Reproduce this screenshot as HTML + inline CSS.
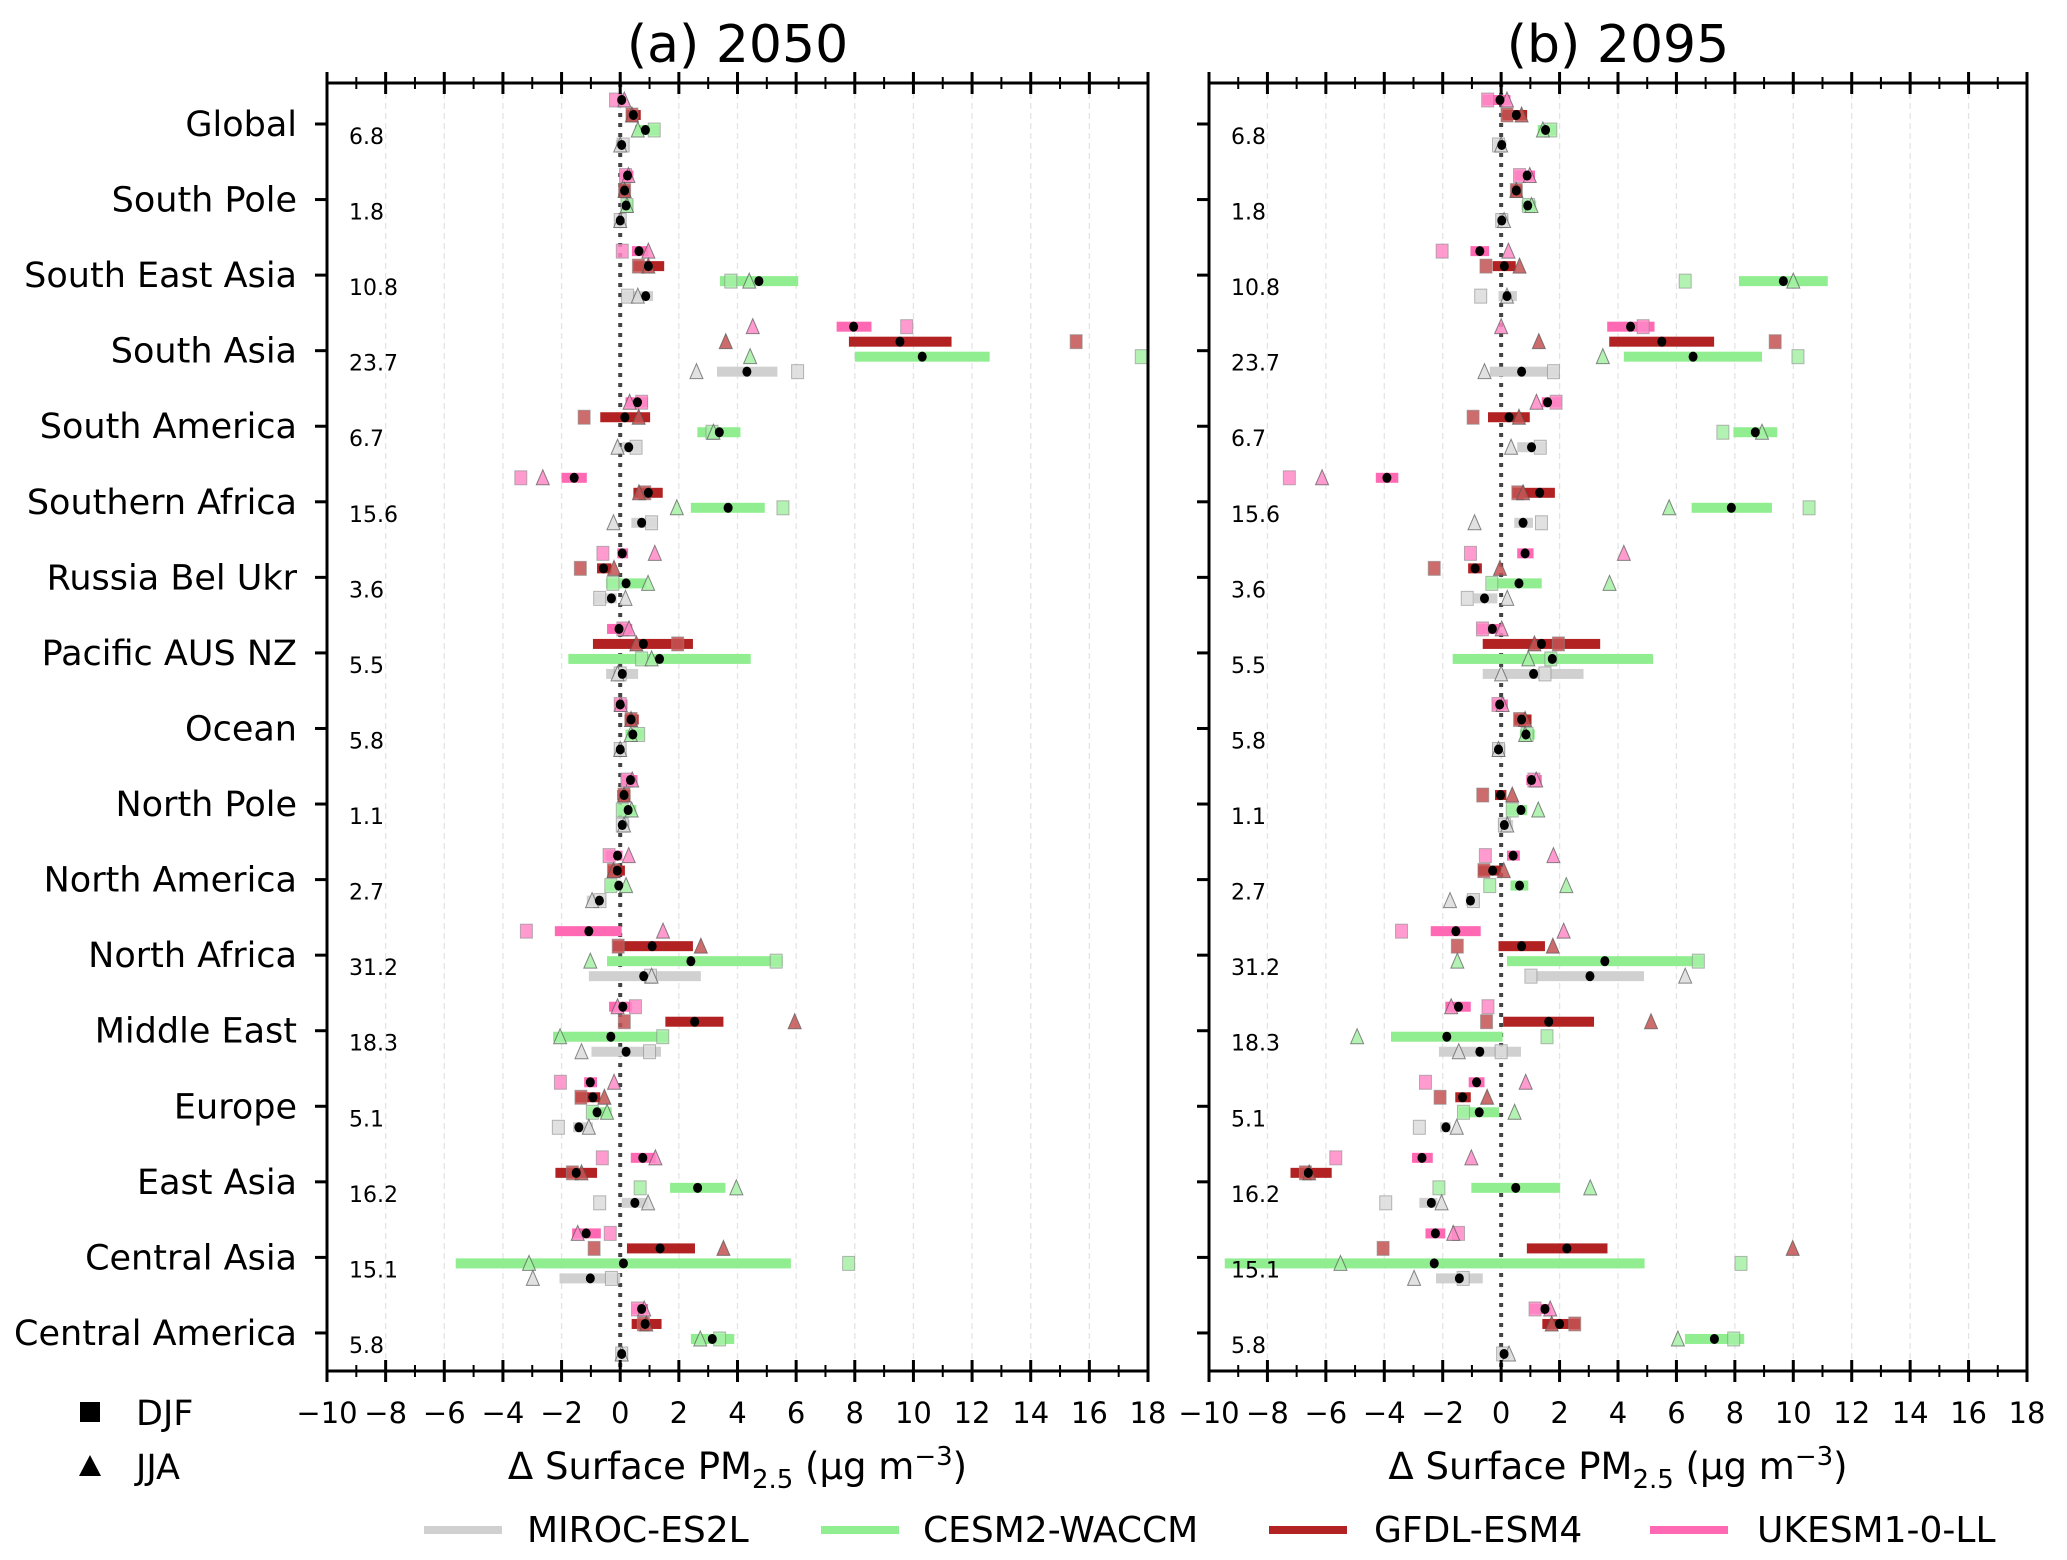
<!DOCTYPE html>
<html><head><meta charset="utf-8"><style>
html,body{margin:0;padding:0;background:#fff}
svg{display:block;font-family:"DejaVu Sans","Liberation Sans",sans-serif}
</style></head><body>
<svg id="chart" width="2067" height="1560" viewBox="0 0 2067 1560" xmlns="http://www.w3.org/2000/svg"></svg>
<script>
const categories=["Global","South Pole","South East Asia","South Asia","South America","Southern Africa","Russia Bel Ukr","Pacific AUS NZ","Ocean","North Pole","North America","North Africa","Middle East","Europe","East Asia","Central Asia","Central America"];
const baselines=["6.8","1.8","10.8","23.7","6.7","15.6","3.6","5.5","5.8","1.1","2.7","31.2","18.3","5.1","16.2","15.1","5.8"];
const xTicks=[-10,-8,-6,-4,-2,0,2,4,6,8,10,12,14,16,18];
const modelNames=["UKESM1-0-LL","GFDL-ESM4","CESM2-WACCM","MIROC-ES2L"];
// Panel (a) 2050
const a_ukesm_lo=[-0.1,0.0,0.4,7.38,0.18,-2.0,-0.1,-0.45,-0.2,0.05,-0.5,-2.23,-0.38,-1.23,0.36,-1.64,0.4];
const a_ukesm_hi=[0.15,0.45,0.96,8.57,0.95,-1.14,0.27,0.41,0.25,0.59,0.08,0.05,0.41,-0.79,1.21,-0.66,0.95];
const a_ukesm_mean=[0.05,0.25,0.64,7.96,0.59,-1.57,0.07,-0.04,0.0,0.35,-0.09,-1.07,0.09,-1.02,0.77,-1.16,0.73];
const a_ukesm_djf=[-0.16,0.18,0.07,9.77,0.73,-3.39,-0.59,0.09,0.0,0.23,-0.38,-3.2,0.52,-2.04,-0.61,-0.34,0.59];
const a_ukesm_jja=[0.14,0.28,0.96,4.52,0.32,-2.64,1.18,0.3,0.02,0.41,0.29,1.46,-0.09,-0.21,1.2,-1.45,0.82];
const a_gfdl_lo=[0.2,-0.05,0.45,7.8,-0.68,0.45,-0.79,-0.93,0.15,-0.1,-0.43,-0.25,1.54,-1.52,-2.21,0.23,0.39];
const a_gfdl_hi=[0.7,0.35,1.5,11.3,1.02,1.45,-0.3,2.48,0.63,0.35,0.16,2.48,3.52,-0.68,-0.79,2.55,1.41];
const a_gfdl_mean=[0.45,0.15,0.96,9.54,0.16,0.96,-0.57,0.79,0.37,0.13,-0.1,1.09,2.54,-0.93,-1.5,1.36,0.85];
const a_gfdl_djf=[0.4,0.15,0.62,15.55,-1.23,0.84,-1.36,1.96,0.37,0.13,-0.23,-0.07,0.14,-1.34,-1.63,-0.89,0.79];
const a_gfdl_jja=[0.4,0.15,0.96,3.6,0.63,0.64,-0.21,0.55,0.37,0.13,-0.23,2.75,5.95,-0.54,-1.32,3.52,0.89];
const a_cesm_lo=[0.5,0.05,3.4,8.0,2.63,2.41,-0.48,-1.77,0.18,-0.1,-0.48,-0.45,-2.29,-1.12,1.7,-5.61,2.41];
const a_cesm_hi=[1.35,0.45,6.07,12.6,4.1,4.93,0.89,4.45,0.82,0.55,0.05,5.54,1.64,-0.29,3.59,5.82,3.89];
const a_cesm_mean=[0.86,0.2,4.73,10.3,3.38,3.68,0.2,1.34,0.43,0.27,-0.05,2.41,-0.32,-0.79,2.64,0.11,3.14];
const a_cesm_djf=[1.16,0.23,3.77,17.77,3.13,5.55,-0.25,0.73,0.63,0.07,-0.32,5.32,1.45,-0.95,0.68,7.79,3.39];
const a_cesm_jja=[0.6,0.23,4.4,4.43,3.18,1.93,0.95,1.07,0.36,0.39,0.2,-1.02,-2.05,-0.45,3.96,-3.11,2.73];
const a_miroc_lo=[-0.15,-0.15,0.05,3.3,0.05,0.38,-0.9,-0.48,-0.15,-0.1,-1.14,-1.07,-0.98,-1.61,0.05,-2.07,-0.15];
const a_miroc_hi=[0.3,0.2,1.12,5.36,0.73,1.27,-0.12,0.61,0.2,0.32,-0.48,2.75,1.39,-0.93,0.95,0.0,0.27];
const a_miroc_mean=[0.05,0.0,0.87,4.32,0.29,0.73,-0.3,0.07,0.0,0.07,-0.71,0.8,0.2,-1.41,0.5,-1.02,0.05];
const a_miroc_djf=[0.1,0.0,0.25,6.05,0.54,1.07,-0.7,0.0,0.0,0.07,-0.69,1.03,1.0,-2.11,-0.7,-0.3,0.05];
const a_miroc_jja=[0.0,0.0,0.6,2.6,-0.09,-0.23,0.18,-0.09,0.0,0.13,-0.96,1.07,-1.32,-1.07,0.95,-2.98,0.05];
// Panel (b) 2095
const b_ukesm_lo=[-0.63,0.46,-1.05,3.63,1.39,-4.29,0.55,-0.84,-0.3,0.86,0.2,-2.41,-1.91,-1.11,-3.05,-2.59,0.98];
const b_ukesm_hi=[0.32,1.16,-0.41,5.25,2.07,-3.52,1.11,-0.04,0.23,1.39,0.64,-0.7,-1.04,-0.57,-2.34,-1.91,1.7];
const b_ukesm_mean=[-0.04,0.89,-0.73,4.43,1.59,-3.91,0.82,-0.3,-0.05,1.04,0.41,-1.55,-1.46,-0.84,-2.71,-2.25,1.5];
const b_ukesm_djf=[-0.46,0.63,-2.02,4.86,1.88,-7.25,-1.05,-0.64,-0.11,1.12,-0.54,-3.41,-0.45,-2.59,-5.66,-1.46,1.16];
const b_ukesm_jja=[0.2,0.98,0.25,0.0,1.21,-6.13,4.2,0.02,0.05,1.2,1.79,2.14,-1.71,0.84,-1.02,-1.64,1.68];
const b_gfdl_lo=[0.05,0.35,-0.29,3.7,-0.45,0.38,-1.13,-0.63,0.45,-0.21,-0.79,-0.09,0.07,-1.57,-7.21,0.88,1.41];
const b_gfdl_hi=[0.89,0.72,0.5,7.29,0.98,1.84,-0.66,3.39,1.04,0.18,0.0,1.5,3.18,-1.04,-5.8,3.64,2.7];
const b_gfdl_mean=[0.52,0.52,0.11,5.5,0.27,1.32,-0.89,1.38,0.7,-0.02,-0.29,0.7,1.63,-1.32,-6.6,2.25,2.0];
const b_gfdl_djf=[0.2,0.52,-0.52,9.38,-0.96,0.57,-2.29,1.96,0.63,-0.63,-0.59,-1.5,-0.5,-2.09,-6.7,-4.04,2.52];
const b_gfdl_jja=[0.7,0.52,0.63,1.29,0.61,0.75,-0.04,1.14,0.82,0.38,0.09,1.77,5.13,-0.48,-6.57,9.98,1.73];
const b_cesm_lo=[1.25,0.7,8.14,4.2,7.95,6.52,-0.48,-1.66,0.64,0.18,0.32,0.2,-3.77,-1.46,-1.02,-9.46,6.29];
const b_cesm_hi=[1.89,1.2,11.18,8.93,9.45,9.27,1.39,5.2,1.15,0.89,0.93,6.93,0.05,-0.07,2.02,4.91,8.32];
const b_cesm_mean=[1.52,0.91,9.66,6.57,8.7,7.88,0.61,1.75,0.85,0.68,0.63,3.55,-1.86,-0.75,0.5,-2.29,7.3];
const b_cesm_djf=[1.7,0.94,6.3,10.16,7.59,10.54,-0.32,1.7,0.89,0.38,-0.39,6.75,1.57,-1.29,-2.13,8.21,7.96];
const b_cesm_jja=[1.43,1.04,10.0,3.48,8.93,5.75,3.71,0.93,0.82,1.27,2.23,-1.5,-4.93,0.46,3.05,-5.5,6.05];
const b_miroc_lo=[-0.25,-0.15,-0.09,-0.39,0.55,0.45,-0.93,-0.63,-0.3,-0.1,-1.21,0.84,-2.13,-2.09,-2.8,-2.23,-0.1];
const b_miroc_hi=[0.18,0.25,0.54,1.98,1.54,1.09,-0.13,2.82,0.15,0.41,-0.75,4.89,0.68,-1.73,-2.18,-0.63,0.32];
const b_miroc_mean=[0.02,0.02,0.2,0.7,1.04,0.75,-0.57,1.11,-0.09,0.11,-1.05,3.04,-0.73,-1.89,-2.39,-1.43,0.1];
const b_miroc_djf=[-0.09,0.02,-0.7,1.79,1.34,1.38,-1.16,1.5,-0.09,0.11,-0.95,1.02,0.0,-2.8,-3.95,-1.3,0.05];
const b_miroc_jja=[0.0,0.1,0.2,-0.57,0.34,-0.91,0.21,0.0,-0.09,0.21,-1.75,6.3,-1.45,-1.52,-2.04,-2.98,0.27];

const NS="http://www.w3.org/2000/svg";
const svg=document.getElementById('chart');
function mk(tag,attrs,parent){const e=document.createElementNS(NS,tag);for(const k in attrs)e.setAttribute(k,attrs[k]);(parent||svg).appendChild(e);return e;}
const TOP=83,BOT=1371,Y0=124,DY=75.56;
function yCat(i){return Y0+i*DY;}
const rowOff=[-24,-9,6,21];
const barCol=["#ff69b4","#b22222","#90ee90","#d0d0d0"];
const mkCol=["#ff8ac6","#c45252","#a6f0a6","#dcdcdc"];

const panels=[
 {key:'a',title:'(a) 2050',L:327,R:1148,data:[
  [a_ukesm_lo,a_ukesm_hi,a_ukesm_mean,a_ukesm_djf,a_ukesm_jja],
  [a_gfdl_lo,a_gfdl_hi,a_gfdl_mean,a_gfdl_djf,a_gfdl_jja],
  [a_cesm_lo,a_cesm_hi,a_cesm_mean,a_cesm_djf,a_cesm_jja],
  [a_miroc_lo,a_miroc_hi,a_miroc_mean,a_miroc_djf,a_miroc_jja]]},
 {key:'b',title:'(b) 2095',L:1209,R:2027,data:[
  [b_ukesm_lo,b_ukesm_hi,b_ukesm_mean,b_ukesm_djf,b_ukesm_jja],
  [b_gfdl_lo,b_gfdl_hi,b_gfdl_mean,b_gfdl_djf,b_gfdl_jja],
  [b_cesm_lo,b_cesm_hi,b_cesm_mean,b_cesm_djf,b_cesm_jja],
  [b_miroc_lo,b_miroc_hi,b_miroc_mean,b_miroc_djf,b_miroc_jja]]}
];

panels.forEach(p=>{
  const x=v=>p.L+(v+10)*(p.R-p.L)/28;
  const g=mk('g',{});
  
  
  const cp=mk('clipPath',{id:'clip'+p.key},g);
  mk('rect',{x:p.L,y:TOP,width:p.R-p.L,height:BOT-TOP},cp);
  const t=mk('text',{x:(p.L+p.R)/2,y:62,'text-anchor':'middle','font-size':52},g);
  t.textContent=p.title;
  
  
  xTicks.forEach(v=>{
    const gl=mk('line',{x1:x(v),x2:x(v),y1:TOP,y2:BOT,stroke:'#e4e4e4','stroke-width':1.3,'stroke-dasharray':'6,4'},g);
    
    
  });
  const zl=mk('line',{x1:x(0),x2:x(0),y1:TOP,y2:BOT,stroke:'#444','stroke-width':4,'stroke-dasharray':'4,6'},g);
  
  
  const mg=mk('g',{'clip-path':'url(#clip'+p.key+')'},g);
  categories.forEach((c,i)=>{
    const yc=yCat(i);
    const nl=mk('text',{x:p.L+22,y:yc+20,'font-size':22},g);
    nl.textContent=baselines[i];
    
    
    p.data.forEach((d,m)=>{
      const yy=yc+rowOff[m];
      const b=mk('rect',{x:x(d[0][i]),y:yy-5,width:Math.max(1,x(d[1][i])-x(d[0][i])),height:10,fill:barCol[m]},mg);
      
      
      const sq=mk('rect',{x:x(d[3][i])-6,y:yy-7,width:12,height:14,fill:mkCol[m],'fill-opacity':0.85,stroke:'#888','stroke-opacity':0.6,'stroke-width':1},mg);
      
      
      const tx=x(d[4][i]);
      const tr=mk('polygon',{points:`${tx},${yy-8} ${tx-6.5},${yy+7} ${tx+6.5},${yy+7}`,fill:mkCol[m],'fill-opacity':0.85,stroke:'#555','stroke-opacity':0.7,'stroke-width':1},mg);
      
      
      const dt=mk('ellipse',{cx:x(d[2][i]),cy:yy,rx:4.5,ry:5,fill:'#000'},mg);
      
      
    });
  });
  const fr=mk('rect',{x:p.L,y:TOP,width:p.R-p.L,height:BOT-TOP,fill:'none',stroke:'#000','stroke-width':3},g);
  
  
  for(let v=-10;v<=18;v++){
    const major=v%2===0, len=major?11:6;
    [TOP,BOT].forEach(yb=>{
      mk('line',{x1:x(v),x2:x(v),y1:yb-len,y2:yb+len,stroke:'#000','stroke-width':major?3:2},g);
    });
  }
  xTicks.forEach(v=>{
    const tl=mk('text',{x:x(v),y:1423,'text-anchor':'middle','font-size':29},g);
    tl.textContent=(v<0?'\u2212':'')+Math.abs(v);
    
    
  });
  categories.forEach((c,i)=>{mk('line',{x1:p.L-12,x2:p.L,y1:yCat(i),y2:yCat(i),stroke:'#000','stroke-width':3},g);});
  const xl=mk('text',{x:(p.L+p.R)/2,y:1479,'text-anchor':'middle','font-size':37},g);
  xl.innerHTML='\u0394 Surface PM<tspan font-size="26" dy="9">2.5</tspan><tspan dy="-9"> (\u03bcg m</tspan><tspan font-size="26" dy="-14">\u22123</tspan><tspan dy="14">)</tspan>';
  
  
});
categories.forEach((c,i)=>{
  const t=mk('text',{x:297,y:yCat(i)+12,'text-anchor':'end','font-size':35});
  t.textContent=c;
  
  
});
const sl=mk('g',{});


mk('rect',{x:80,y:1402,width:20,height:20,fill:'#000'},sl);
mk('polygon',{points:'90,1455 79,1476 101,1476',fill:'#000'},sl);
const t1=mk('text',{x:136,y:1425,'font-size':35},sl);t1.textContent='DJF';
const t2=mk('text',{x:136,y:1479,'font-size':35},sl);t2.textContent='JJA';
const legItems=[["MIROC-ES2L","#d0d0d0",424,527],["CESM2-WACCM","#90ee90",821,923],["GFDL-ESM4","#b22222",1269,1374],["UKESM1-0-LL","#ff69b4",1650,1757]];
legItems.forEach(it=>{
  const lg=mk('g',{});
  
  
  mk('rect',{x:it[2],y:1526,width:78,height:8,fill:it[1]},lg);
  const tt=mk('text',{x:it[3],y:1542,'font-size':36},lg);tt.textContent=it[0];
});
</script>
</body></html>
